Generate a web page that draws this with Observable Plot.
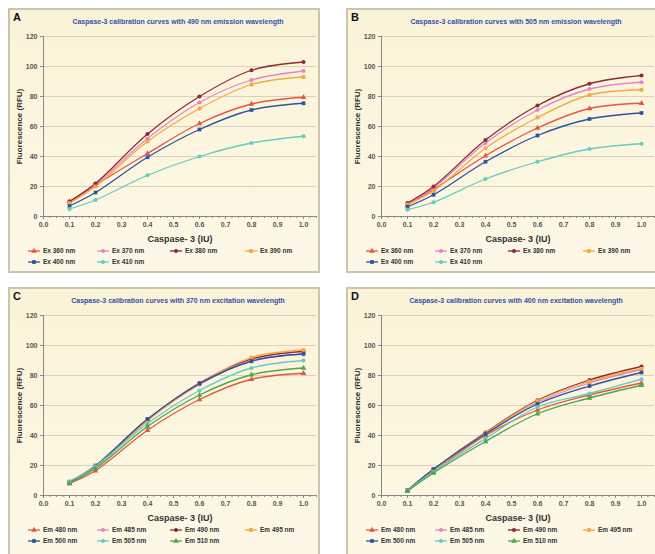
<!DOCTYPE html>
<html><head><meta charset="utf-8">
<script src="https://cdn.jsdelivr.net/npm/d3@7"></script>
<script src="https://cdn.jsdelivr.net/npm/@observablehq/plot@0.6"></script>
<style>
body{margin:0;background:#fff;font-family:Arial,"Liberation Sans",sans-serif}
#root{position:relative;width:655px;height:554px;overflow:hidden;background:#fff}
.panel{position:absolute;box-sizing:border-box;border:2px solid #cbc4ae;background:linear-gradient(180deg,#fbf3d8 0%,#fdf8e6 100%)}
.letter{position:absolute;font:bold 11px Arial,"Liberation Sans",sans-serif;color:#111;line-height:11px}
.title{position:absolute;font:bold 7px Arial,"Liberation Sans",sans-serif;color:#3350a8;white-space:nowrap;transform:translateX(-50%);line-height:8px}
.chart{position:absolute;left:0}
.leg{position:absolute;display:flex;align-items:center;font:bold 6.5px Arial,"Liberation Sans",sans-serif;color:#333;white-space:nowrap;line-height:8px}
.leg svg{margin-right:3px}
svg g[aria-label="x-axis label"] text{font-size:9px;font-weight:600;fill:#333}
svg g[aria-label="y-axis label"] text{font-size:8px;font-weight:bold;fill:#333}
svg g[aria-label="x-axis tick label"] text, svg g[aria-label="y-axis tick label"] text{font-weight:bold;fill:#555}
</style></head>
<body><div id="root"></div>
<script>
// ---- data ----
const xs = [0.1, 0.2, 0.4, 0.6, 0.8, 1.0];
const xTicks = [0, 0.1, 0.2, 0.3, 0.4, 0.5, 0.6, 0.7, 0.8, 0.9, 1.0];
const yTicks = [0, 20, 40, 60, 80, 100, 120];

const exNames = ["Ex 360 nm", "Ex 370 nm", "Ex 380 nm", "Ex 390 nm", "Ex 400 nm", "Ex 410 nm"];
const emNames = ["Em 480 nm", "Em 485 nm", "Em 490 nm", "Em 495 nm", "Em 500 nm", "Em 505 nm", "Em 510 nm"];

const titles = [
  "Caspase-3 calibration curves with 490 nm emission wavelength",
  "Caspase-3 calibration curves with 505 nm emission wavelength",
  "Caspase-3 calibration curves with 370 nm excitation wavelength",
  "Caspase-3 calibration curves with 400 nm excitation wavelength"
];
const letters = ["A", "B", "C", "D"];

// Panel A
const aEx360 = [10, 21, 42, 62, 75, 79.5];
const aEx370 = [9, 21, 52, 76, 91, 97];
const aEx380 = [10, 22, 55, 80, 97.5, 103];
const aEx390 = [9, 20, 50, 72, 88, 93];
const aEx400 = [7, 16, 39.5, 58, 71, 75.5];
const aEx410 = [5, 11, 27.5, 40, 49, 53.5];
// Panel B
const bEx360 = [8, 18, 40.5, 59, 72, 75.5];
const bEx370 = [8.5, 19, 49, 71, 85, 89.5];
const bEx380 = [9, 20, 51, 74, 88.5, 94];
const bEx390 = [8, 17, 45.5, 66, 81, 84.5];
const bEx400 = [6.5, 14.5, 36.5, 54, 65, 69];
const bEx410 = [4.5, 9.5, 25, 36.5, 45, 48.5];
// Panel C
const cEm480 = [8, 16.5, 43.5, 64, 77.5, 81.5];
const cEm485 = [9, 19, 50, 74, 90, 94];
const cEm490 = [9, 19, 50.5, 75, 91, 96];
const cEm495 = [9, 18.5, 50, 74.5, 92, 97];
const cEm500 = [9, 20, 51, 74.5, 89.5, 94.5];
const cEm505 = [9.5, 19.5, 48, 70, 85, 90];
const cEm510 = [8, 18, 46, 67, 80.5, 85];
// Panel D
const dEm480 = [3, 16, 40, 57, 67, 75];
const dEm485 = [3.5, 17, 41, 62, 75, 84];
const dEm490 = [3.5, 17.5, 42, 63.5, 77, 86];
const dEm495 = [3.5, 17, 41.5, 63, 76, 84.5];
const dEm500 = [3.5, 17.5, 41, 61, 73, 82];
const dEm505 = [3.5, 16, 38, 59, 68, 77.5];
const dEm510 = [3, 15, 36, 54.5, 65, 73.5];

const colors = ["#e8553f", "#e286c8", "#8e2b36", "#f6a83c", "#2c52a3", "#66cbc3", "#4aa84a"];
const symbols = ["triangle", "circle", "circle", "square", "square", "circle", "triangle"];

const panels = [
  {names: exNames, series: [aEx360, aEx370, aEx380, aEx390, aEx400, aEx410], left: 8, top: 8},
  {names: exNames, series: [bEx360, bEx370, bEx380, bEx390, bEx400, bEx410], left: 346, top: 8},
  {names: emNames, series: [cEm480, cEm485, cEm490, cEm495, cEm500, cEm505, cEm510], left: 8, top: 287},
  {names: emNames, series: [dEm480, dEm485, dEm490, dEm495, dEm500, dEm505, dEm510], left: 346, top: 287}
];

const root = document.getElementById("root");

panels.forEach((p, i) => {
  const div = document.createElement("div");
  div.className = "panel";
  div.style.left = p.left + "px";
  div.style.top = p.top + "px";
  div.style.width = "312px";
  div.style.height = (i < 2 ? 265 : 275) + "px";
  root.appendChild(div);

  const L = document.createElement("div");
  L.className = "letter"; L.textContent = letters[i];
  L.style.left = "3px"; L.style.top = "2px";
  div.appendChild(L);

  const T = document.createElement("div");
  T.className = "title"; T.textContent = titles[i];
  T.style.left = "168px"; T.style.top = "8px";
  div.appendChild(T);

  const data = [];
  p.names.forEach((n, k) => xs.forEach((x, j) => data.push({series: n, x, y: p.series[k][j]})));

  const chart = Plot.plot({
    width: 308, height: 222,
    marginLeft: 33, marginRight: 2, marginTop: 11, marginBottom: 31,
    style: {background: "transparent", fontFamily: "Arial, 'Liberation Sans', sans-serif", fontSize: "7px", color: "#555", overflow: "visible"},
    x: {domain: [0, 1.05], label: null},
    y: {domain: [0, 120], label: null},
    color: {domain: p.names, range: colors.slice(0, p.names.length)},
    symbol: {domain: p.names, range: symbols.slice(0, p.names.length)},
    marks: [
      Plot.gridY(yTicks.slice(1), {stroke: "#d9d1b8", strokeOpacity: 1, strokeWidth: 1}),
      Plot.axisX(d3.range(0, 1.051, 0.025), {tickSize: 2, text: null, stroke: "#888"}),
      Plot.axisX(xTicks, {tickSize: 3, tickFormat: d3.format(".1f"), tickPadding: 3, stroke: "#888",
        label: "Caspase- 3 (IU)", labelAnchor: "center", labelArrow: "none", labelOffset: 25}),
      Plot.axisY(yTicks, {tickSize: 3, tickPadding: 3, stroke: "#888",
        label: "Fluorescence (RFU)", labelAnchor: "center", labelArrow: "none", labelOffset: 27}),
      Plot.ruleY([0], {stroke: "#888"}),
      Plot.ruleX([0], {stroke: "#888"}),
      Plot.line(data, {x: "x", y: "y", z: "series", stroke: "series", strokeWidth: 1.3, curve: "catmull-rom"}),
      Plot.dot(data, {x: "x", y: "y", fill: "series", symbol: "series", r: 2.1})
    ]
  });
  chart.classList.add("chart");
  chart.style.top = "15px";
  chart.style.left = "0px";
  div.appendChild(chart);

  const colX = [18, 87, 160, 235];
  p.names.forEach((n, k) => {
    const row = Math.floor(k / 4), col = k % 4;
    const item = document.createElement("div");
    item.className = "leg";
    item.style.left = colX[col] + "px";
    item.style.top = (237 + row * 11) + "px";
    const sw = d3.create("svg").attr("width", 12).attr("height", 8);
    sw.append("line").attr("x1", 0).attr("x2", 12).attr("y1", 4).attr("y2", 4)
      .attr("stroke", colors[k]).attr("stroke-width", 1.3);
    const symMap = {triangle: d3.symbolTriangle, circle: d3.symbolCircle, square: d3.symbolSquare};
    sw.append("path").attr("transform", "translate(6,4)")
      .attr("d", d3.symbol(symMap[symbols[k]], 14)()).attr("fill", colors[k]);
    item.appendChild(sw.node());
    const span = document.createElement("span");
    span.textContent = n;
    item.appendChild(span);
    div.appendChild(item);
  });
});
</script>
</body></html>
